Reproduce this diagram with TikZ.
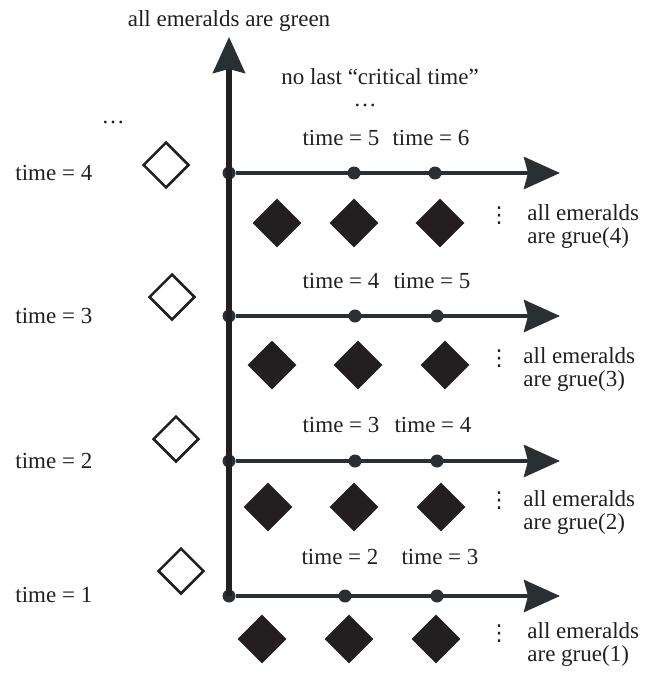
\documentclass[tikz,border=0pt]{standalone}
\usepackage{fontspec}
\setmainfont{Liberation Serif}
\newfontfamily\dotfont{DejaVu Sans}
\usepackage{tikz}
\usetikzlibrary{shapes.geometric, arrows.meta}
\definecolor{ink}{HTML}{231F20}
\definecolor{slate}{HTML}{283033}
\tikzset{
  lbl/.style      = {font=\fontsize{11.5}{11.5}\selectfont, text=ink, inner sep=0pt},
  more/.style     = {font=\dotfont\fontsize{11}{11}\selectfont, text=ink, inner sep=0pt},
  gem/.style      = {diamond, aspect=1, inner sep=0pt, minimum width=24.5pt, minimum height=24.5pt},
  gemgreen/.style = {gem, draw=ink, line width=1.25pt, fill=white, minimum width=23pt, minimum height=23pt},
  gemgrue/.style  = {gem, fill=ink},
  tick/.style     = {circle, fill=slate, inner sep=0pt, minimum size=6.5pt},
  axis/.style     = {-{Stealth[length=18pt, width=16pt, inset=2pt, color=slate]}, draw=ink, line width=2.6pt},
  hline/.style    = {axis, draw=slate, line width=2.2pt},
}

\begin{document}
\begin{tikzpicture}[x=0.5pt, y=-0.5pt]
  \useasboundingbox (0,0) rectangle (649,674);

  % top
  \node[lbl, anchor=base] (green) at (229,27) {all emeralds are green};
  \node[lbl, anchor=base] (nolast) at (380,84) {no last “critical time”};
  \node[lbl, anchor=base] (later) at (365,106) {\dots};
  \node[lbl, anchor=base] (earlier) at (113,124) {\dots};

  % time = 4
  \node[lbl, anchor=base west] (t4) at (15,180) {time = 4};
  \node[gemgreen] (w4) at (166,165) {};
  \node[tick] (o4) at (229,173) {};
  \node[tick] (a4) at (354,173) {};
  \node[tick] (b4) at (435,173) {};
  \coordinate (e4) at (560,173);
  \node[lbl, anchor=base] (la4) at (341,146) {time = 5};
  \node[lbl, anchor=base] (lb4) at (431,146) {time = 6};
  \node[gemgrue] (p4) at (277,223) {};
  \node[gemgrue] (q4) at (354,223) {};
  \node[gemgrue] (r4) at (440,223) {};
  \node[more] (v4) at (499,216) {⋮};
  \node[lbl, anchor=west, align=left] (g4) at (527,227) {all emeralds\\are grue(4)};

  % time = 3
  \node[lbl, anchor=base west] (t3) at (15,323) {time = 3};
  \node[gemgreen] (w3) at (172,297) {};
  \node[tick] (o3) at (229,316) {};
  \node[tick] (a3) at (355,316) {};
  \node[tick] (b3) at (437,316) {};
  \coordinate (e3) at (560,316);
  \node[lbl, anchor=base] (la3) at (341,288) {time = 4};
  \node[lbl, anchor=base] (lb3) at (432,288) {time = 5};
  \node[gemgrue] (p3) at (272,365) {};
  \node[gemgrue] (q3) at (358,365) {};
  \node[gemgrue] (r3) at (445,365) {};
  \node[more] (v3) at (499,359) {⋮};
  \node[lbl, anchor=west, align=left] (g3) at (523,369) {all emeralds\\are grue(3)};

  % time = 2
  \node[lbl, anchor=base west] (t2) at (15,468) {time = 2};
  \node[gemgreen] (w2) at (176,439) {};
  \node[tick] (o2) at (229,461) {};
  \node[tick] (a2) at (355,461) {};
  \node[tick] (b2) at (437,461) {};
  \coordinate (e2) at (560,461);
  \node[lbl, anchor=base] (la2) at (341,432) {time = 3};
  \node[lbl, anchor=base] (lb2) at (433,432) {time = 4};
  \node[gemgrue] (p2) at (268,507) {};
  \node[gemgrue] (q2) at (354,507) {};
  \node[gemgrue] (r2) at (441,507) {};
  \node[more] (v2) at (499,501) {⋮};
  \node[lbl, anchor=west, align=left] (g2) at (523,512) {all emeralds\\are grue(2)};

  % time = 1
  \node[lbl, anchor=base west] (t1) at (15,602) {time = 1};
  \node[gemgreen] (w1) at (181,571) {};
  \node[tick] (o1) at (229,596) {};
  \node[tick] (a1) at (345,596) {};
  \node[tick] (b1) at (437,596) {};
  \coordinate (e1) at (560,596);
  \node[lbl, anchor=base] (la1) at (340,564) {time = 2};
  \node[lbl, anchor=base] (lb1) at (440,564) {time = 3};
  \node[gemgrue] (p1) at (262,639) {};
  \node[gemgrue] (q1) at (349,639) {};
  \node[gemgrue] (r1) at (436,639) {};
  \node[more] (v1) at (499,634) {⋮};
  \node[lbl, anchor=west, align=left] (g1) at (527,644) {all emeralds\\are grue(1)};

  % axes
  \coordinate (top) at (229,37);
  \draw[axis] (o1.center) -- (top);
  \draw[hline] (o4) -- (e4);
  \draw[hline] (o3) -- (e3);
  \draw[hline] (o2) -- (e2);
  \draw[hline] (o1) -- (e1);
\end{tikzpicture}
\end{document}
